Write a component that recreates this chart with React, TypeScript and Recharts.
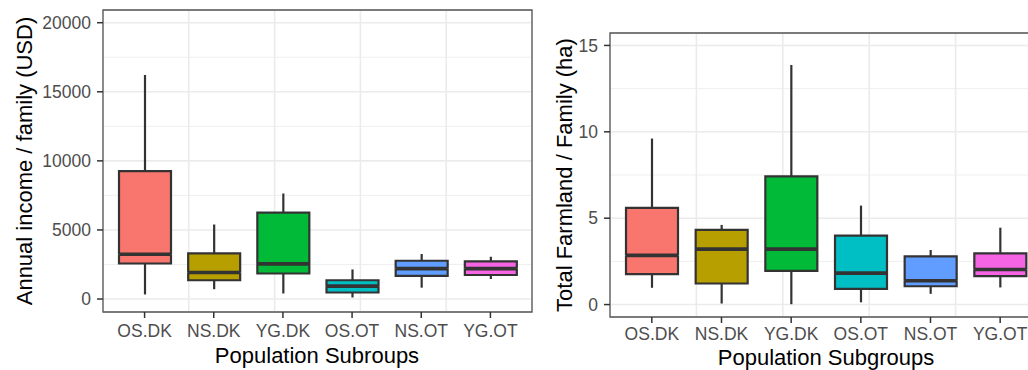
import React from 'react';
import {
  Bar,
  CartesianGrid,
  ComposedChart,
  ReferenceArea,
  XAxis,
  YAxis,
} from 'recharts';

const groups = ['OS.DK', 'NS.DK', 'YG.DK', 'OS.OT', 'NS.OT', 'YG.OT'];
const fills = ['#F8766D', '#B79F00', '#00BA38', '#00BFC4', '#619CFF', '#F564E3'];

// annual income / family (USD)
const incomeMin = [330, 710, 400, 110, 820, 1450];
const incomeQ1 = [2570, 1360, 1845, 470, 1670, 1740];
const incomeMedian = [3240, 1920, 2540, 930, 2200, 2200];
const incomeQ3 = [9250, 3300, 6260, 1360, 2770, 2730];
const incomeMax = [16220, 5400, 7640, 2140, 3260, 3060];
const incomeTicks = [0, 5000, 10000, 15000, 20000];
const incomeMinor = [2500, 7500, 12500, 17500];

// total farmland / family (ha)
const landMin = [0.97, 0.06, 0.02, 0.13, 0.62, 0.99];
const landQ1 = [1.76, 1.22, 1.95, 0.91, 1.06, 1.65];
const landMedian = [2.85, 3.21, 3.21, 1.82, 1.38, 2.03];
const landQ3 = [5.6, 4.32, 7.42, 3.99, 2.79, 2.96];
const landMax = [9.61, 4.61, 13.87, 5.73, 3.16, 4.45];
const landTicks = [0, 5, 10, 15];
const landMinor = [2.5, 7.5, 12.5];

const slots = [0, 1, 2, 3, 4, 5];

const INK = '#333333';
const FONT = '"Liberation Sans", Arial, sans-serif';

const buildRows = (mn: number[], q1: number[], md: number[], q3: number[], mx: number[]) =>
  groups.map((name, i) => ({
    name,
    base: mn[i],
    lowWhisker: q1[i] - mn[i],
    lowBox: md[i] - q1[i],
    upBox: q3[i] - md[i],
    upWhisker: mx[i] - q3[i],
  }));

const WhiskerShape = (p: any) => {
  const cx = p.x + p.width / 2;
  return <line x1={cx} x2={cx} y1={p.y} y2={p.y + p.height} stroke={INK} strokeWidth={2.2} />;
};

const LowerBoxShape = (p: any) => {
  const bottom = p.y + p.height;
  return (
    <g>
      <rect x={p.x} y={p.y} width={p.width} height={p.height} fill={fills[p.index]} />
      <path
        d={`M${p.x},${p.y}V${bottom}H${p.x + p.width}V${p.y}`}
        fill="none"
        stroke={INK}
        strokeWidth={2.2}
      />
    </g>
  );
};

const UpperBoxShape = (p: any) => {
  const bottom = p.y + p.height;
  return (
    <g>
      <rect x={p.x} y={p.y} width={p.width} height={p.height} fill={fills[p.index]} />
      <path
        d={`M${p.x},${bottom}V${p.y}H${p.x + p.width}V${bottom}`}
        fill="none"
        stroke={INK}
        strokeWidth={2.2}
      />
      <line x1={p.x} x2={p.x + p.width} y1={bottom} y2={bottom} stroke={INK} strokeWidth={3.6} />
    </g>
  );
};

interface PanelProps {
  rows: any[];
  domain: [number, number];
  ticks: number[];
  minor: number[];
  width: number;
  margin: { top: number; right: number; bottom: number; left: number };
  yWidth: number;
  xTickMargin: number;
  yTickMargin: number;
}

const BoxPanel = ({ rows, domain, ticks, minor, width, margin, yWidth, xTickMargin, yTickMargin }: PanelProps) => {
  const tickStyle = { fill: '#4D4D4D', fontSize: 17.5, fontFamily: FONT };
  return (
    <ComposedChart width={width} height={370} data={rows} margin={margin} barSize={52}>
      <XAxis xAxisId="grid" type="number" domain={[-0.6, 5.6]} ticks={slots} allowDataOverflow hide />
      <XAxis
        xAxisId="cat"
        dataKey="name"
        padding={{ left: 7, right: 7 }}
        axisLine={false}
        tickLine={{ stroke: INK, strokeWidth: 1.5 }}
        tickSize={6}
        tickMargin={xTickMargin}
        tick={tickStyle}
        height={40}
        interval={0}
      />
      <YAxis
        yAxisId="main"
        type="number"
        domain={domain}
        ticks={ticks}
        allowDataOverflow
        axisLine={false}
        tickLine={{ stroke: INK, strokeWidth: 1.5 }}
        tickSize={6}
        tickMargin={yTickMargin}
        tick={tickStyle}
        width={yWidth}
      />
      <YAxis yAxisId="minor" type="number" domain={domain} ticks={minor} allowDataOverflow hide />
      <CartesianGrid xAxisId="grid" yAxisId="minor" vertical={false} stroke="#EBEBEB" strokeWidth={0.8} />
      <CartesianGrid xAxisId="grid" yAxisId="main" stroke="#EBEBEB" strokeWidth={1.6} />
      <Bar xAxisId="cat" yAxisId="main" dataKey="base" stackId="box" fill="none" isAnimationActive={false} />
      <Bar xAxisId="cat" yAxisId="main" dataKey="lowWhisker" stackId="box" shape={WhiskerShape} isAnimationActive={false} />
      <Bar xAxisId="cat" yAxisId="main" dataKey="lowBox" stackId="box" shape={LowerBoxShape} isAnimationActive={false} />
      <Bar xAxisId="cat" yAxisId="main" dataKey="upBox" stackId="box" shape={UpperBoxShape} isAnimationActive={false} />
      <Bar xAxisId="cat" yAxisId="main" dataKey="upWhisker" stackId="box" shape={WhiskerShape} isAnimationActive={false} />
      <ReferenceArea
        xAxisId="grid"
        yAxisId="main"
        y1={domain[0]}
        y2={domain[1]}
        fill="none"
        stroke="#555555"
        strokeWidth={1.3}
        ifOverflow="visible"
      />
    </ComposedChart>
  );
};

const titleStyle: React.CSSProperties = {
  position: 'absolute',
  fontFamily: FONT,
  fontSize: 22,
  lineHeight: '22px',
  color: '#000',
  whiteSpace: 'nowrap',
  textAlign: 'center',
};

const App = () => {
  const incomeRows = buildRows(incomeMin, incomeQ1, incomeMedian, incomeQ3, incomeMax);
  const landRows = buildRows(landMin, landQ1, landMedian, landQ3, landMax);
  return (
    <div
      style={{
        position: 'absolute',
        left: 0,
        top: 0,
        width: 1028,
        height: 370,
        overflow: 'hidden',
        background: '#fff',
      }}
    >
      <div style={{ position: 'absolute', left: 0, top: 0 }}>
        <BoxPanel
          rows={incomeRows}
          domain={[-940, 20920]}
          ticks={incomeTicks}
          minor={incomeMinor}
          width={540}
          margin={{ top: 10, right: 8, bottom: 18, left: 0 }}
          yWidth={103}
          xTickMargin={7}
          yTickMargin={6}
        />
      </div>
      <div style={{ position: 'absolute', left: 520, top: 0 }}>
        <BoxPanel
          rows={landRows}
          domain={[-0.72, 15.72]}
          ticks={landTicks}
          minor={landMinor}
          width={530}
          margin={{ top: 33, right: 8, bottom: 13, left: 0 }}
          yWidth={90}
          xTickMargin={5}
          yTickMargin={6}
        />
      </div>
      <div style={{ ...titleStyle, left: 25 - 200, top: 161 - 11, width: 400, transform: 'rotate(-90deg)' }}>
        Annual income / family (USD)
      </div>
      <div style={{ ...titleStyle, left: 317 - 200, top: 345, width: 400 }}>Population Subroups</div>
      <div style={{ ...titleStyle, left: 565 - 200, top: 175 - 11, width: 400, transform: 'rotate(-90deg)' }}>
        Total Farmland / Family (ha)
      </div>
      <div style={{ ...titleStyle, left: 826 - 200, top: 347, width: 400 }}>Population Subgroups</div>
    </div>
  );
};

export default App;
